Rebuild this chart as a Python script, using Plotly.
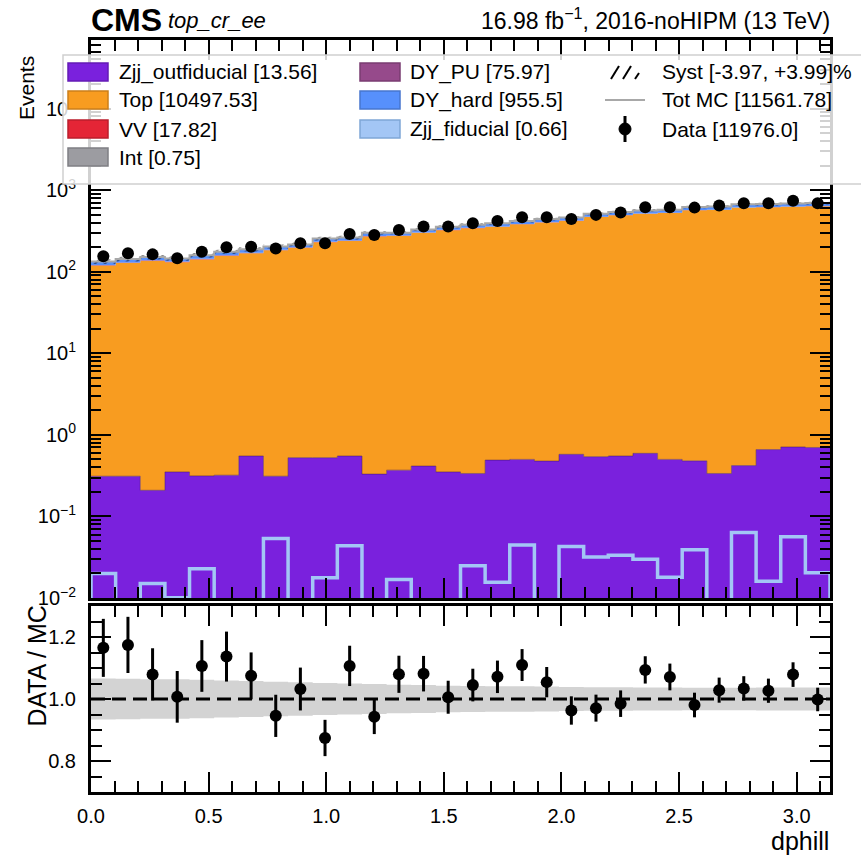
import numpy as np
import plotly.graph_objects as go

# ---------------- data ----------------
nbins = 30
edges = np.linspace(0, np.pi, nbins + 1)
centers = 0.5 * (edges[:-1] + edges[1:])

zjj_out = [0.311, 0.311, 0.209, 0.351, 0.314, 0.320, 0.550, 0.311, 0.525, 0.525,
           0.550, 0.330, 0.369, 0.414, 0.351, 0.336, 0.490, 0.500, 0.477, 0.577,
           0.540, 0.550, 0.593, 0.500, 0.480, 0.336, 0.420, 0.660, 0.710, 0.700]
top = [118.5, 127.2, 135.3, 130.2, 141.2, 155.9, 167.6, 182.6, 195.6, 229.3,
       237.3, 270.5, 273.3, 299.2, 322.3, 341.1, 355.3, 381.1, 401.1, 418.9,
       466.0, 490.2, 512.8, 525.3, 567.0, 572.6, 610.2, 615.3, 624.0, 633.8]
vv = [0.4, 0.5, 0.4, 0.5, 0.5, 0.6, 0.5, 0.6, 0.5, 0.6,
      0.6, 0.5, 0.7, 0.6, 0.6, 0.7, 0.6, 0.6, 0.7, 0.6,
      0.7, 0.6, 0.7, 0.6, 0.7, 0.6, 0.7, 0.6, 0.7, 0.6]
interf = [0.02, 0.03, 0.02, 0.03, 0.02, 0.03, 0.02, 0.03, 0.02, 0.03,
          0.02, 0.03, 0.02, 0.03, 0.02, 0.03, 0.02, 0.03, 0.02, 0.03,
          0.02, 0.03, 0.02, 0.03, 0.02, 0.03, 0.02, 0.03, 0.02, 0.03]
dy_pu = [1.8, 2.0, 2.1, 1.9, 2.0, 2.2, 2.3, 2.5, 2.4, 2.6,
         2.5, 2.7, 2.6, 2.8, 2.7, 2.9, 2.6, 2.8, 2.7, 2.9,
         2.8, 2.7, 2.9, 2.6, 2.8, 2.5, 2.7, 2.4, 2.6, 2.9]
dy_hard = [12, 13, 13, 12, 15, 16, 17, 18, 17, 22,
           21, 25, 24, 27, 29, 31, 32, 34, 36, 37,
           42, 44, 47, 47, 51, 52, 55, 55, 57, 55]
zjj_fid = [0.020, 0.0, 0.0151, 0.0101, 0.0229, 0.0, 0.0, 0.0537, 0.0, 0.0177,
           0.0436, 0.0, 0.0169, 0.0, 0.0, 0.0249, 0.0156, 0.0445, 0.0, 0.0428,
           0.0318, 0.0335, 0.0299, 0.0180, 0.0389, 0.0, 0.0637, 0.0161, 0.0564, 0.0204]
data = [155, 168, 163, 146, 176, 199, 202, 193, 223, 223,
        290, 282, 325, 357, 357, 393, 419, 465, 465, 443,
        497, 530, 617, 617, 610, 646, 692, 692, 739, 692]
syst = [0.066, 0.065, 0.064, 0.064, 0.062, 0.060, 0.058, 0.056, 0.054, 0.052,
        0.050, 0.048, 0.046, 0.045, 0.043, 0.042, 0.041, 0.041, 0.040, 0.039,
        0.038, 0.038, 0.037, 0.037, 0.036, 0.036, 0.036, 0.037, 0.037, 0.037]

stack = [
    ("Zjj_outfiducial", zjj_out, "#7a21dd", "13.56"),
    ("Top", top, "#f89c20", "10497.53"),
    ("VV", vv, "#e42536", "17.82"),
    ("Int", interf, "#9c9ca1", "0.75"),
    ("DY_PU", dy_pu, "#964a8b", "75.97"),
    ("DY_hard", dy_hard, "#5790fc", "955.5"),
]
fid_color = "#a3c6f5"

# ---------------- geometry helpers ----------------
L, R, T, B = 91, 830, 40, 792
W, H = R - L, B - T


def px(x):
    return (x - L) / W


def py(y):
    return (B - y) / H


FONT = "Liberation Sans"

fig = go.Figure()


def step(v):
    v = np.asarray(v, dtype=float)
    return np.append(v, v[-1])


# baseline for fills
fig.add_trace(go.Scatter(x=edges, y=np.full(nbins + 1, 1e-6), mode="lines",
                         line=dict(width=0, shape="hv"), showlegend=False,
                         hoverinfo="skip", xaxis="x", yaxis="y"))
cum = np.zeros(nbins)
for name, vals, col, _ in stack:
    cum = cum + np.asarray(vals, dtype=float)
    fig.add_trace(go.Scatter(x=edges, y=step(cum), mode="lines",
                             line=dict(width=0.6 if name == "Zjj_outfiducial" else 0,
                                       color="rgba(60,20,90,0.8)", shape="hv"),
                             fill="tonexty", fillcolor=col, name=name,
                             showlegend=False, xaxis="x", yaxis="y"))

total = cum + np.asarray(zjj_fid, dtype=float)
syst_a = np.asarray(syst)

# syst hatch band
fig.add_trace(go.Scatter(x=edges, y=step(total * (1 - syst_a)), mode="lines",
                         line=dict(width=0, shape="hv"), showlegend=False,
                         hoverinfo="skip", xaxis="x", yaxis="y"))
fig.add_trace(go.Scatter(x=edges, y=step(total * (1 + syst_a)), mode="lines",
                         line=dict(width=0, shape="hv"), fill="tonexty",
                         fillcolor="rgba(0,0,0,0)",
                         fillpattern=dict(shape="/", fgcolor="black", bgcolor="rgba(0,0,0,0)",
                                          size=7, solidity=0.25),
                         showlegend=False, hoverinfo="skip", xaxis="x", yaxis="y"))
# total MC line
fig.add_trace(go.Scatter(x=edges, y=step(total), mode="lines",
                         line=dict(width=2, color="#a8a8a8", shape="hv"),
                         showlegend=False, xaxis="x", yaxis="y"))

# Zjj_fiducial step line
fid = np.asarray(zjj_fid, dtype=float)
fid_plot = np.where(fid > 0, fid, 1e-6)
fx = np.concatenate([[edges[0]], edges, [edges[-1]]])
fy = np.concatenate([[1e-6], step(fid_plot), [1e-6]])
fig.add_trace(go.Scatter(x=fx, y=fy, mode="lines",
                         line=dict(width=3.5, color=fid_color, shape="hv"),
                         showlegend=False, xaxis="x", yaxis="y"))

# data points
data_a = np.asarray(data, dtype=float)
fig.add_trace(go.Scatter(x=centers, y=data_a, mode="markers",
                         marker=dict(size=12, color="black"),
                         error_y=dict(type="data", array=np.sqrt(data_a), color="black",
                                      thickness=2.5, width=0),
                         showlegend=False, xaxis="x", yaxis="y"))

# ---------------- ratio panel ----------------
fig.add_trace(go.Scatter(x=edges, y=step(1 - syst_a), mode="lines",
                         line=dict(width=0, shape="hv"), showlegend=False,
                         hoverinfo="skip", xaxis="x2", yaxis="y2"))
fig.add_trace(go.Scatter(x=edges, y=step(1 + syst_a), mode="lines",
                         line=dict(width=0, shape="hv"), fill="tonexty",
                         fillcolor="#d3d3d3", showlegend=False,
                         hoverinfo="skip", xaxis="x2", yaxis="y2"))
fig.add_trace(go.Scatter(x=[0, np.pi], y=[1, 1], mode="lines",
                         line=dict(width=2.8, color="black", dash="14px,7px"),
                         showlegend=False, hoverinfo="skip", xaxis="x2", yaxis="y2"))
ratio = data_a / total
ratio_err = np.sqrt(data_a) / total
fig.add_trace(go.Scatter(x=centers, y=ratio, mode="markers",
                         marker=dict(size=12, color="black"),
                         error_y=dict(type="data", array=ratio_err, color="black",
                                      thickness=3, width=0),
                         showlegend=False, xaxis="x2", yaxis="y2"))

# ---------------- axes ----------------
main_bottom = py(598)
ratio_top = py(606)
xt = [0.0, 0.5, 1.0, 1.5, 2.0, 2.5, 3.0]
common_x = dict(range=[0, np.pi], showgrid=False, zeroline=False, showline=True,
                linewidth=3, linecolor="black", mirror="allticks", ticks="inside",
                ticklen=20, tickwidth=1.5, tickcolor="black", tickvals=xt,
                minor=dict(ticks="inside", ticklen=11, tickwidth=1.5, tickcolor="black",
                           tick0=0, dtick=0.1))

decades = [1e-2, 1e-1, 1e0, 1e1, 1e2, 1e3, 1e4]
dec_text = ["10<sup>−2</sup>", "10<sup>−1</sup>", "10<sup>0</sup>", "10<sup>1</sup>",
            "10<sup>2</sup>", "10<sup>3</sup>", "10<sup>4</sup>"]
minor_vals = [m * d for d in [1e-2, 1e-1, 1e0, 1e1, 1e2, 1e3, 1e4] for m in range(2, 10)]

fig.update_layout(
    width=861, height=857, autosize=False,
    margin=dict(l=L, r=861 - R, t=T, b=857 - B, pad=0),
    paper_bgcolor="white", plot_bgcolor="white",
    font=dict(family=FONT, size=20, color="black"),
    showlegend=False,
    xaxis=dict(common_x, domain=[0, 1], anchor="y", showticklabels=False, matches="x2"),
    yaxis=dict(type="log", domain=[main_bottom, 1], anchor="x", range=[-2, 4.84],
               showgrid=False, zeroline=False, showline=True, linewidth=3,
               linecolor="black", mirror="allticks", ticks="inside", ticklen=20,
               tickwidth=1.5, tickcolor="black", tickmode="array", tickvals=decades,
               ticktext=dec_text, tickfont=dict(size=20), ticklabelstandoff=8,
               minor=dict(ticks="inside", ticklen=10, tickwidth=1.5, tickcolor="black",
                          tickvals=minor_vals)),
    xaxis2=dict(common_x, domain=[0, 1], anchor="y2", showticklabels=True,
                ticktext=["0.0", "0.5", "1.0", "1.5", "2.0", "2.5", "3.0"],
                tickfont=dict(size=20), ticklabelstandoff=4),
    yaxis2=dict(domain=[0, ratio_top], anchor="x2", range=[0.7, 1.3], showgrid=False,
                zeroline=False, showline=True, linewidth=3, linecolor="black",
                mirror="allticks", ticks="inside", ticklen=20, tickwidth=1.5,
                tickcolor="black", tickvals=[0.8, 1.0, 1.2],
                ticktext=["0.8", "1.0", "1.2"], tickfont=dict(size=20),
                ticklabelstandoff=8,
                minor=dict(ticks="inside", ticklen=11, tickwidth=1.5, tickcolor="black",
                           tick0=0.7, dtick=0.05)),
)

# ---------------- texts ----------------
ann = []
ann.append(dict(x=px(89), y=py(20), xref="paper", yref="paper", xanchor="left",
                yanchor="middle", text="<b>CMS</b>", showarrow=False,
                font=dict(family=FONT, size=32)))
ann.append(dict(x=px(166), y=py(21), xref="paper", yref="paper", xanchor="left",
                yanchor="middle", text="<i>top_cr_ee</i>", showarrow=False,
                font=dict(family=FONT, size=22)))
ann.append(dict(x=px(832), y=py(19), xref="paper", yref="paper", xanchor="right",
                yanchor="middle", text="16.98 fb<sup>−1</sup>, 2016-noHIPM (13 TeV)",
                showarrow=False, font=dict(family=FONT, size=23)))
ann.append(dict(x=px(27), y=py(54), xref="paper", yref="paper", xanchor="center",
                yanchor="top", text="Events", textangle=-90, showarrow=False,
                font=dict(family=FONT, size=21)))
ann.append(dict(x=px(36), y=py(604), xref="paper", yref="paper", xanchor="center",
                yanchor="top", text="DATA / MC", textangle=-90, showarrow=False,
                font=dict(family=FONT, size=25)))
ann.append(dict(x=px(831), y=py(841), xref="paper", yref="paper", xanchor="right",
                yanchor="middle", text="dphill", showarrow=False,
                font=dict(family=FONT, size=25)))

# ---------------- manual legend ----------------
shapes = []
shapes.append(dict(type="rect", xref="paper", yref="paper", x0=px(63), x1=px(872),
                   y0=py(55), y1=py(184), fillcolor="rgba(255,255,255,0.82)",
                   line=dict(color="#cfcfcf", width=1.5), layer="above"))


def darker(hexcol, f=0.82):
    h = hexcol.lstrip("#")
    r, g, b = int(h[0:2], 16), int(h[2:4], 16), int(h[4:6], 16)
    return "rgb(%d,%d,%d)" % (r * f, g * f, b * f)


rows = [72, 100, 129, 157]
col1 = stack[0:4]
col2 = stack[4:6]
for i, (name, vals, col, tot) in enumerate(col1):
    yy = rows[i]
    shapes.append(dict(type="rect", xref="paper", yref="paper", x0=px(68), x1=px(108),
                       y0=py(yy + 9), y1=py(yy - 9), fillcolor=col,
                       line=dict(color=darker(col), width=1.5), layer="above"))
    ann.append(dict(x=px(117), y=py(yy), xref="paper", yref="paper", xanchor="left",
                    yanchor="middle", text=f"{name} [{tot}]", showarrow=False,
                    font=dict(family=FONT, size=21)))
for i, (name, vals, col, tot) in enumerate(col2):
    yy = rows[i]
    shapes.append(dict(type="rect", xref="paper", yref="paper", x0=px(360), x1=px(400),
                       y0=py(yy + 9), y1=py(yy - 9), fillcolor=col,
                       line=dict(color=darker(col), width=1.5), layer="above"))
    ann.append(dict(x=px(408), y=py(yy), xref="paper", yref="paper", xanchor="left",
                    yanchor="middle", text=f"{name} [{tot}]", showarrow=False,
                    font=dict(family=FONT, size=21)))
yy = rows[2]
shapes.append(dict(type="rect", xref="paper", yref="paper", x0=px(360), x1=px(400),
                   y0=py(yy + 9), y1=py(yy - 9), fillcolor=fid_color,
                   line=dict(color="#7fa6d6", width=1.5), layer="above"))
ann.append(dict(x=px(408), y=py(yy), xref="paper", yref="paper", xanchor="left",
                yanchor="middle", text="Zjj_fiducial [0.66]", showarrow=False,
                font=dict(family=FONT, size=21)))

# column 3: Syst, Tot MC, Data
yy = rows[0]
for (xa, ya, xb, yb) in [(611, 79, 619, 66), (623, 79, 631, 66), (635, 79, 639, 73)]:
    shapes.append(dict(type="line", xref="paper", yref="paper", x0=px(xa), y0=py(ya),
                       x1=px(xb), y1=py(yb), line=dict(color="black", width=2),
                       layer="above"))
ann.append(dict(x=px(660), y=py(yy), xref="paper", yref="paper", xanchor="left",
                yanchor="middle", text="Syst [-3.97, +3.99]%", showarrow=False,
                font=dict(family=FONT, size=21)))
yy = rows[1]
shapes.append(dict(type="line", xref="paper", yref="paper", x0=px(605), y0=py(yy),
                   x1=px(645), y1=py(yy), line=dict(color="#a8a8a8", width=2),
                   layer="above"))
ann.append(dict(x=px(660), y=py(yy), xref="paper", yref="paper", xanchor="left",
                yanchor="middle", text="Tot MC [11561.78]", showarrow=False,
                font=dict(family=FONT, size=21)))
yy = rows[2]
shapes.append(dict(type="line", xref="paper", yref="paper", x0=px(625), y0=py(yy - 13),
                   x1=px(625), y1=py(yy + 13), line=dict(color="black", width=3),
                   layer="above"))
shapes.append(dict(type="circle", xref="paper", yref="paper", x0=px(619), x1=px(631),
                   y0=py(yy + 6), y1=py(yy - 6), fillcolor="black",
                   line=dict(color="black", width=1), layer="above"))
ann.append(dict(x=px(660), y=py(yy), xref="paper", yref="paper", xanchor="left",
                yanchor="middle", text="Data [11976.0]", showarrow=False,
                font=dict(family=FONT, size=21)))

fig.update_layout(annotations=ann, shapes=shapes)
fig.write_html("out.html")
